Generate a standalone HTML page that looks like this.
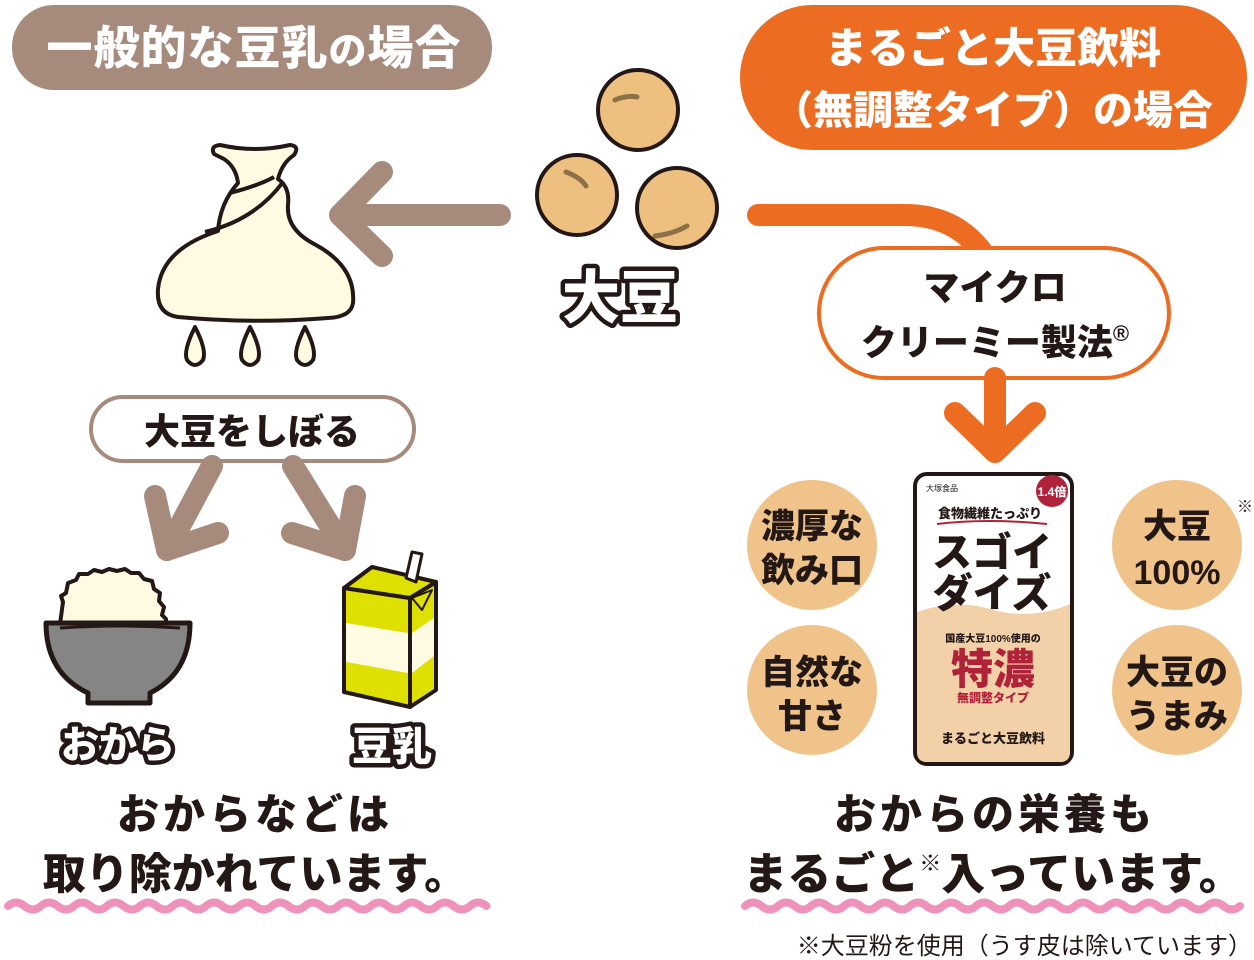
<!DOCTYPE html>
<html><head><meta charset="utf-8"><style>
html,body{margin:0;padding:0;background:#fff;}
svg{display:block;font-family:"Liberation Sans","Noto Sans CJK JP",sans-serif;}
.b{font-weight:900;}
.ol{fill:#fff;stroke:#231815;stroke-width:9;paint-order:stroke;stroke-linejoin:round;font-weight:900;}
</style></head><body>
<svg width="1254" height="960" viewBox="0 0 1254 960" xmlns="http://www.w3.org/2000/svg">
<!-- header pills -->
<rect x="12" y="5" width="480" height="85" rx="42" fill="#a68b7d"/>
<text x="254" y="64" text-anchor="middle" class="b" font-size="46" letter-spacing="1" fill="#fff">一般的な豆乳<tspan font-size="38">の</tspan>場合</text>
<rect x="740" y="5" width="507" height="145" rx="72" fill="#ec6d22"/>
<text x="993" y="63" text-anchor="middle" class="b" font-size="42" fill="#fff">まるごと大豆飲料</text>
<text x="993" y="124" text-anchor="middle" class="b" font-size="40" fill="#fff">（無調整タイプ）の場合</text>

<!-- beans -->
<g fill="#edc07f" stroke="#231815" stroke-width="4">
<circle cx="638" cy="110" r="40"/><circle cx="577" cy="195" r="40"/><circle cx="677" cy="208" r="40"/>
</g>
<g stroke="#8c7048" stroke-width="5" stroke-linecap="round" fill="none">
<path d="M615,100 q12,-5 22,-3"/><path d="M566,172 q14,5 20,14"/><path d="M655,236 q18,-2 32,-10"/>
</g>
<text x="620" y="318" text-anchor="middle" class="ol" font-size="58">大豆</text>

<!-- left arrow -->
<g stroke="#a68b7d" stroke-width="22" stroke-linecap="round" stroke-linejoin="round" fill="none">
<path d="M500,215 H345"/><path d="M382,172 L340,215 L382,256"/>
</g>

<!-- bag -->
<g stroke="#231815" stroke-width="4" fill="#fffbe3" stroke-linejoin="round">
<path d="M214,154 q-4,-8 6,-9 q35,8 70,0 q10,1 4,10 q-12,8 -16,24 q12,8 10,26 q-2,25 28,40 q40,22 37,58 q-2,14 -25,15 q-75,6 -150,-1 q-22,-3 -20,-28 q4,-40 60,-58 q2,-28 20,-48 q-2,-16 -14,-24 z"/>
<path d="M205,232 q50,-12 78,-50" fill="none"/>
<path d="M230,193 q30,-8 44,-16" fill="none"/>
<path d="M195,327 q-12,24 -8,33 q8,10 16,0 q4,-10 -8,-33 z"/>
<path d="M250,327 q-12,24 -8,33 q8,10 16,0 q4,-10 -8,-33 z"/>
<path d="M305,327 q-12,24 -8,33 q8,10 16,0 q4,-10 -8,-33 z"/>
</g>

<!-- squeeze pill -->
<rect x="91" y="397" width="323" height="64" rx="32" fill="#fff" stroke="#a68b7d" stroke-width="4"/>
<text x="252" y="444" text-anchor="middle" class="b" font-size="36" fill="#231815">大豆をしぼる</text>
<g stroke="#a68b7d" stroke-width="22" stroke-linecap="round" stroke-linejoin="round" fill="none">
<path d="M212,466 L167,550"/><path d="M155,496 L167,550 L218,533"/>
<path d="M293,466 L345,550"/><path d="M355,496 L345,550 L292,533"/>
</g>

<!-- bowl -->
<path d="M60,624 l3,-22 l-2,-6 l5,-3 l2,-10 l8,-3 l3,-6 l9,0 l6,-4 l8,2 l7,-3 l8,2 l8,-2 l6,4 l8,0 l5,6 l8,2 l2,8 l6,4 l-1,8 l5,6 l-2,8 l4,4 v10 z" fill="#fffbe3" stroke="#231815" stroke-width="4" stroke-linejoin="round"/>
<path d="M46,623 h144 q0,50 -40,70 v10 h-62 v-10 q-42,-20 -42,-70 z" fill="#858585" stroke="#231815" stroke-width="5" stroke-linejoin="round"/>
<path d="M60,628 q60,-4 120,0" stroke="#231815" stroke-width="3" fill="none"/>
<text x="118" y="758" text-anchor="middle" class="ol" font-size="38">おから</text>

<!-- carton -->
<g stroke="#231815" stroke-width="4" stroke-linejoin="round">
<path d="M344,588 L410,598 L410,707 L344,692 z" fill="#dde000"/>
<path d="M410,598 L436,582 L436,690 L410,707 z" fill="#dde000"/>
<path d="M344,588 L372,567 L436,582 L410,598 z" fill="#dde000"/>
<path d="M346,623 L408,633 L408,673 L346,662 z" fill="#fffbe3" stroke="none"/>
<path d="M412,633 L434,618 L434,656 L412,673 z" fill="#fffbe3" stroke="none"/>
<path d="M412,598 L432,590 L422,610 z" fill="#dde000" stroke-width="2"/>
<path d="M406,578 l6,-26 l10,2 l-6,28 z" fill="#fff" stroke-width="3"/>
</g>
<text x="392" y="760" text-anchor="middle" class="ol" font-size="40">豆乳</text>

<!-- left texts -->
<text x="255" y="829" text-anchor="middle" class="b" font-size="42" letter-spacing="4" fill="#231815">おからなどは</text>
<text x="255" y="889" text-anchor="middle" class="b" font-size="43" fill="#231815">取り除かれています。</text>
<path d="M8,906 q8,-7 16.5,0 t16.5,0 t16.5,0 t16.5,0 t16.5,0 t16.5,0 t16.5,0 t16.5,0 t16.5,0 t16.5,0 t16.5,0 t16.5,0 t16.5,0 t16.5,0 t16.5,0 t16.5,0 t16.5,0 t16.5,0 t16.5,0 t16.5,0 t16.5,0 t16.5,0 t16.5,0 t16.5,0 t16.5,0 t16.5,0 t16.5,0 t16.5,0 t16.5,0" stroke="#ef92bb" stroke-width="8" fill="none" stroke-linecap="round"/>

<!-- right flow -->
<path d="M758,215 H905 q50,0 78,38" stroke="#ec6d22" stroke-width="22" fill="none" stroke-linecap="round"/>
<rect x="819" y="248" width="350" height="130" rx="65" fill="#fff" stroke="#ec6d22" stroke-width="4"/>
<text x="995" y="300" text-anchor="middle" class="b" font-size="36" fill="#231815">マイクロ</text>
<text x="995" y="355" text-anchor="middle" class="b" font-size="36" fill="#231815">クリーミー製法<tspan font-size="22" dy="-14">®</tspan></text>
<g stroke="#ec6d22" stroke-width="22" stroke-linecap="round" stroke-linejoin="round" fill="none">
<path d="M995,378 V450"/><path d="M955,413 L995,452 L1035,413"/>
</g>

<!-- circles -->
<g fill="#f0c38a">
<circle cx="812" cy="545" r="65"/><circle cx="812" cy="690" r="65"/>
<circle cx="1177" cy="545" r="65"/><circle cx="1177" cy="690" r="65"/>
</g>
<g class="b" font-size="34" fill="#231815" text-anchor="middle">
<text x="812" y="538">濃厚な</text><text x="812" y="582">飲み口</text>
<text x="812" y="684">自然な</text><text x="812" y="728">甘さ</text>
<text x="1177" y="538">大豆</text><text x="1177" y="584">100%</text>
<text x="1177" y="684">大豆の</text><text x="1177" y="728">うまみ</text>
</g>
<text x="1245" y="512" text-anchor="middle" font-size="16" fill="#231815">※</text>

<!-- package -->
<rect x="915" y="474" width="157" height="290" rx="12" fill="#fff" stroke="#231815" stroke-width="4"/>
<path d="M917,612 q40,-14 76,-2 q40,10 77,-6 V752 q0,10 -10,10 H927 q-10,0 -10,-10 z" fill="#f2d1a8"/>
<text x="926" y="491" font-size="8" fill="#231815">大塚食品</text>
<circle cx="1052" cy="491" r="16" fill="#b0223a"/>
<text x="1052" y="496" text-anchor="middle" class="b" font-size="12" fill="#fff">1.4倍</text>
<text x="990" y="518" text-anchor="middle" class="b" font-size="13" fill="#231815">食物繊維たっぷり</text>
<path d="M937,524 q50,-6 110,0" stroke="#b0223a" stroke-width="2" fill="none"/>
<text x="992" y="566" text-anchor="middle" class="b" font-size="40" fill="#231815">スゴイ</text>
<text x="992" y="607" text-anchor="middle" class="b" font-size="40" fill="#231815">ダイズ</text>
<text x="993" y="642" text-anchor="middle" class="b" font-size="10" fill="#231815">国産大豆100%使用の</text>
<text x="993" y="684" text-anchor="middle" class="b" font-size="42" fill="#b0223a">特濃</text>
<text x="993" y="702" text-anchor="middle" class="b" font-size="12" fill="#b0223a">無調整タイプ</text>
<text x="993" y="743" text-anchor="middle" class="b" font-size="13" fill="#231815">まるごと大豆飲料</text>

<!-- right texts -->
<text x="995" y="829" text-anchor="middle" class="b" font-size="42" letter-spacing="4" fill="#231815">おからの栄養も</text>
<text x="993" y="889" text-anchor="middle" class="b" font-size="44" fill="#231815">まるごと<tspan font-size="22" dy="-18">※</tspan><tspan dy="18">入っています。</tspan></text>
<path d="M745,906 q8,-7 16.5,0 t16.5,0 t16.5,0 t16.5,0 t16.5,0 t16.5,0 t16.5,0 t16.5,0 t16.5,0 t16.5,0 t16.5,0 t16.5,0 t16.5,0 t16.5,0 t16.5,0 t16.5,0 t16.5,0 t16.5,0 t16.5,0 t16.5,0 t16.5,0 t16.5,0 t16.5,0 t16.5,0 t16.5,0 t16.5,0 t16.5,0 t16.5,0 t16.5,0 t16.5,0" stroke="#ef92bb" stroke-width="8" fill="none" stroke-linecap="round"/>
<text x="1252" y="954" text-anchor="end" font-size="24" fill="#231815">※大豆粉を使用（うす皮は除いています）</text>
</svg>
</body></html>
